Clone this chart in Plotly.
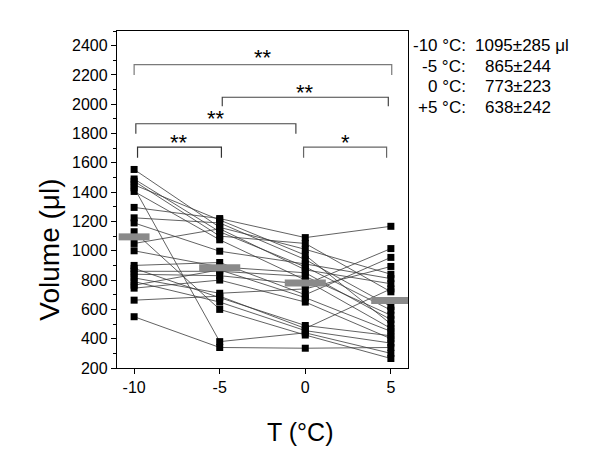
import plotly.graph_objects as go

temps = [-10, -5, 0, 5]
tick_labels = ["-10", "-5", "0", "5"]

# individual subjects: volume (µl) at -10, -5, 0, +5 °C
s01 = [1555, 1160, 1010, 840]
s02 = [1490, 1130, 890, 595]
s03 = [1475, 1100, 1050, 720]
s04 = [1450, 1210, 970, 500]
s05 = [1430, 380, 440, 300]
s06 = [1405, 1075, 800, 470]
s07 = [1296, 1220, 1090, 1167]
s08 = [1225, 1190, 940, 620]
s09 = [1190, 997, 910, 810]
s10 = [1130, 600, 425, 265]
s11 = [1050, 1150, 870, 775]
s12 = [1000, 890, 850, 530]
s13 = [900, 920, 700, 955]
s14 = [880, 680, 490, 420]
s15 = [860, 860, 825, 560]
s16 = [840, 830, 770, 1015]
s17 = [815, 710, 740, 893]
s18 = [790, 650, 455, 370]
s19 = [765, 870, 680, 450]
s20 = [745, 800, 650, 400]
s21 = [663, 690, 470, 740]
s22 = [550, 340, 335, 340]
subjects = [s01, s02, s03, s04, s05, s06, s07, s08, s09, s10, s11,
            s12, s13, s14, s15, s16, s17, s18, s19, s20, s21, s22]

mean_bar_values = [1095, 885, 780, 660]

# significance brackets: (from, to, level, foot, label)
bracket_from = [-10, -4.85, -9.9, -9.8, -0.1]
bracket_to = [5.05, 4.85, -0.55, -4.9, 4.75]
bracket_level = [2270, 2048, 1867, 1707, 1707]
bracket_foot = [2200, 1987, 1798, 1635, 1635]
bracket_label = ["**", "**", "**", "**", "*"]
bracket_label_y = [2322, 2082, 1900, 1742, 1742]

summary_temps = ["-10 °C:", "-5 °C:", "0 °C:", "+5 °C:"]
summary_values = ["1095±285 μl", "865±244", "773±223", "638±242"]

fig = go.Figure()

# connecting lines
lx, ly = [], []
for s in subjects:
    lx += temps + [None]
    ly += s + [None]
fig.add_trace(go.Scatter(x=lx, y=ly, mode="lines",
                         line=dict(color="#3a3a3a", width=0.8),
                         hoverinfo="skip", showlegend=False))

# square markers
mx, my = [], []
for s in subjects:
    mx += temps
    my += s
fig.add_trace(go.Scatter(x=mx, y=my, mode="markers",
                         marker=dict(symbol="square", size=7, color="black",
                                     line=dict(width=0)),
                         showlegend=False))

# mean bars
half = [0.9, 1.2, 1.2, 1.15]
for t, m, h in zip(temps, mean_bar_values, half):
    fig.add_trace(go.Scatter(x=[t - h, t + h], y=[m, m], mode="lines",
                             line=dict(color="#8a8a8a", width=7),
                             showlegend=False, hoverinfo="skip"))

# brackets
bcolors = ["#7a7a7a", "#444444", "#444444", "#333333", "#666666"]
for a, b, lv, ft, lab, ly_, c in zip(bracket_from, bracket_to, bracket_level,
                                      bracket_foot, bracket_label,
                                      bracket_label_y, bcolors):
    fig.add_trace(go.Scatter(x=[a, a, b, b], y=[ft, lv, lv, ft], mode="lines",
                             line=dict(color=c, width=1.2),
                             showlegend=False, hoverinfo="skip"))
    fig.add_annotation(x=(a + b) / 2, y=ly_, text=lab, showarrow=False,
                       xanchor="center", yanchor="middle",
                       font=dict(size=22, color="black",
                                 family="Liberation Sans, Arial"))

# summary text on right
ys = [0.958, 0.896, 0.835, 0.773]
for lab, val, yy, i in zip(summary_temps, summary_values, ys, range(4)):
    fig.add_annotation(xref="paper", yref="paper", x=1.205, y=yy, text=lab,
                       showarrow=False, xanchor="right", yanchor="middle",
                       font=dict(size=17, color="black"))
    fig.add_annotation(xref="paper", yref="paper",
                       x=1.222 if i == 0 else 1.258, y=yy, text=val,
                       showarrow=False, xanchor="left", yanchor="middle",
                       font=dict(size=17, color="black"))

# axis titles
fig.add_annotation(xref="paper", yref="paper", x=-0.235, y=0.35,
                   text="Volume (μl)", textangle=-90, showarrow=False,
                   xanchor="center", yanchor="middle",
                   font=dict(size=28, color="black"))
fig.add_annotation(xref="paper", yref="paper", x=0.629, y=-0.19,
                   text="T (°C)", showarrow=False,
                   xanchor="center", yanchor="middle",
                   font=dict(size=25, color="black"))

fig.update_layout(
    width=600, height=459,
    margin=dict(l=109, r=200, t=23, b=99),
    paper_bgcolor="white", plot_bgcolor="white",
    font=dict(family="Liberation Sans, Arial", color="black"),
    showlegend=False,
)
fig.update_xaxes(range=[-11, 6], tickvals=temps, ticktext=tick_labels,
                 ticks="outside", ticklen=5, tickwidth=1.2, tickcolor="black",
                 showline=True, linecolor="black", linewidth=1.3, mirror=True,
                 showgrid=False, zeroline=False,
                 tickfont=dict(size=16))
fig.update_yaxes(range=[200, 2500], tick0=200, dtick=200,
                 ticks="outside", ticklen=5, tickwidth=1.2, tickcolor="black",
                 minor=dict(dtick=100, ticks="outside", ticklen=3,
                            tickcolor="black", tickwidth=1),
                 showline=True, linecolor="black", linewidth=1.3, mirror=True,
                 showgrid=False, zeroline=False,
                 tickfont=dict(size=16))

fig.write_html("out.html")
